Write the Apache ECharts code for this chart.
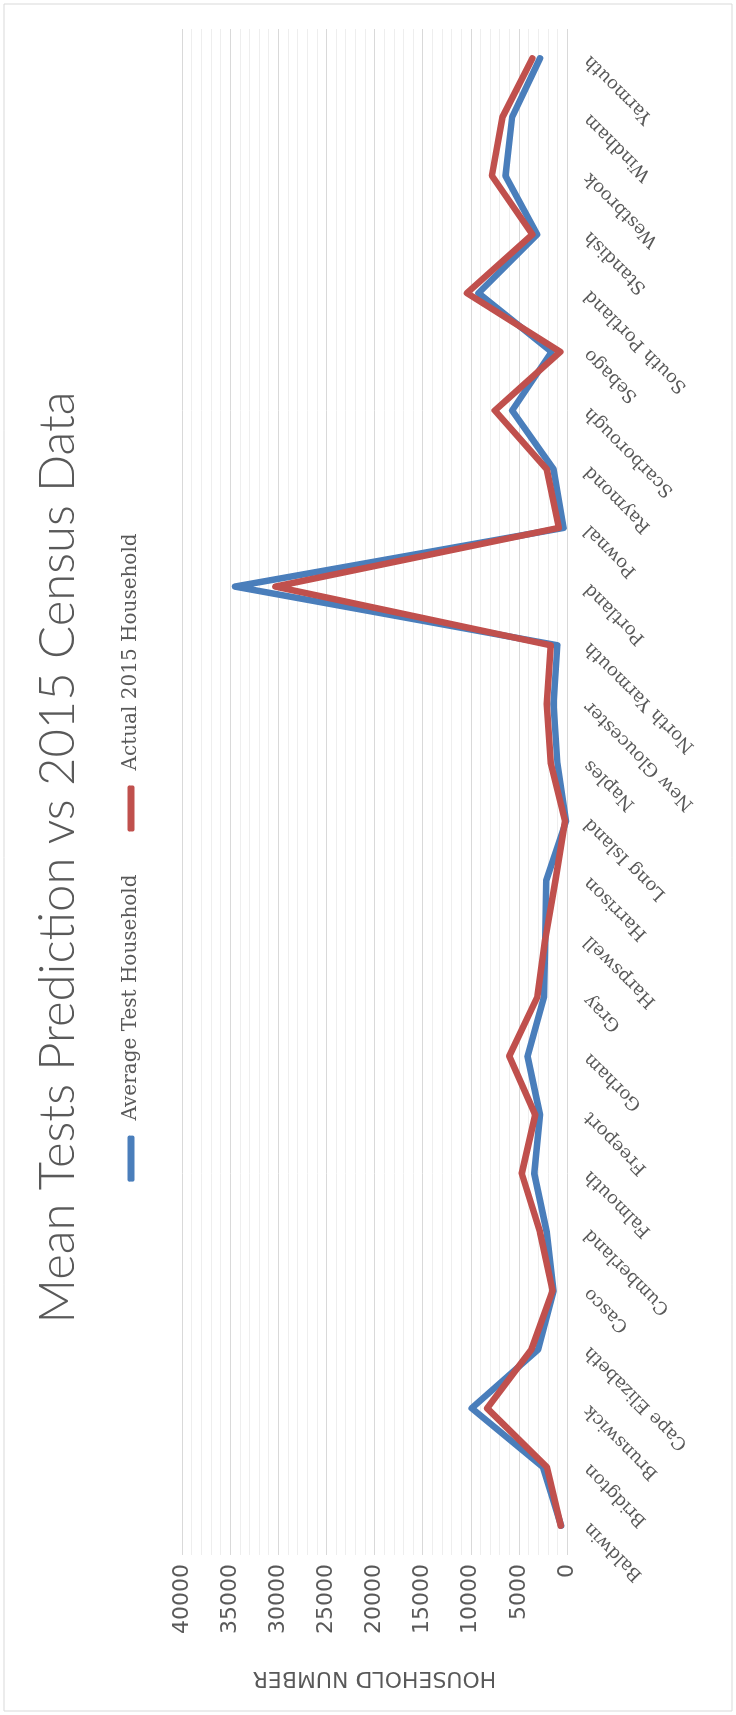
<!DOCTYPE html>
<html>
<head>
<meta charset="utf-8">
<script src="https://cdn.jsdelivr.net/npm/echarts@6/dist/echarts.min.js"></script>
<style>
html, body { margin: 0; padding: 0; background: #fff; overflow: hidden; }
#wrap { position: absolute; left: 0; top: 0; width: 736px; height: 1715px; overflow: hidden; }
#chart { position: absolute; left: 0; top: 0; width: 1715px; height: 736px;
  transform-origin: 0 0; transform: translate(0px, 1715px) rotate(-90deg); }
</style>
</head>
<body>
<div id="wrap"><div id="chart"></div></div>
<script>
const titleText = 'Mean Tests Prediction vs 2015 Census Data';
const axisTitle = 'HOUSEHOLD NUMBER';
const seriesNames = ['Average Test Household', 'Actual 2015 Household'];
const categories = ['Baldwin', 'Bridgton', 'Brunswick', 'Cape Elizabeth', 'Casco', 'Cumberland',
  'Falmouth', 'Freeport', 'Gorham', 'Gray', 'Harpswell', 'Harrison', 'Long Island', 'Naples',
  'New Gloucester', 'North Yarmouth', 'Portland', 'Pownal', 'Raymond', 'Scarborough', 'Sebago',
  'South Portland', 'Standish', 'Westbrook', 'Windham', 'Yarmouth'];
const averageTest = [600, 2500, 9900, 3000, 1400, 2100, 3400, 2800, 4100, 2400, 2250, 2150, 100,
  1000, 1400, 1000, 34500, 350, 1400, 5700, 1600, 9200, 3100, 6400, 5700, 2800];
const actual2015 = [650, 2100, 8300, 3700, 1500, 2800, 4700, 3300, 6000, 3100, 2250, 1200, 200,
  1700, 2100, 1700, 30300, 850, 2100, 7500, 700, 10400, 3600, 7800, 6700, 3600];
const valueMin = 0, valueMax = 40000, valueStep = 5000;

const chart = echarts.init(document.getElementById('chart'), null, { renderer: 'canvas', width: 1715, height: 736 });
const gray = '#595959';
chart.setOption({
  backgroundColor: '#ffffff',
  animation: false,
  title: {
    text: titleText, left: 'center', top: 29,
    textStyle: { fontFamily: 'Lato', fontWeight: 300, fontSize: 49, color: gray }
  },
  legend: {
    data: seriesNames, left: 'center', top: 116, icon: 'roundRect',
    itemWidth: 46, itemHeight: 7, itemGap: 43,
    textStyle: { fontFamily: 'DejaVu Serif', fontSize: 20, color: gray, padding: [0, 0, 0, 10] }
  },
  graphic: [{
    type: 'rect', shape: { x: 4, y: 4, width: 1707, height: 728 },
    style: { fill: 'none', stroke: '#d9d9d9', lineWidth: 1 }, silent: true
  }],
  grid: { left: 160, right: 29, top: 182, bottom: 169 },
  xAxis: {
    type: 'category', data: categories, boundaryGap: true,
    axisLine: { show: false }, axisTick: { show: false },
    axisLabel: { rotate: 45, margin: 20, interval: 0, fontFamily: 'DejaVu Serif', fontSize: 18, color: gray }
  },
  yAxis: {
    type: 'value', min: valueMin, max: valueMax, interval: valueStep,
    name: axisTitle, nameLocation: 'middle', nameRotate: 90, nameGap: 112, nameMoveOverlap: false,
    nameTextStyle: { fontFamily: 'DejaVu Sans', fontSize: 22, color: gray },
    axisLine: { show: false }, axisTick: { show: false },
    axisLabel: { margin: 9, fontFamily: 'DejaVu Sans', fontSize: 22, color: gray, formatter: v => String(v) },
    splitLine: { lineStyle: { color: '#d9d9d9', width: 1 } },
    minorTick: { show: false, splitNumber: 5 },
    minorSplitLine: { show: true, lineStyle: { color: '#eeeeee', width: 1 } }
  },
  series: [
    { name: seriesNames[0], type: 'line', data: averageTest, symbol: 'none',
      color: '#4A7EBB', lineStyle: { width: 6.5, color: '#4A7EBB', cap: 'round', join: 'round' } },
    { name: seriesNames[1], type: 'line', data: actual2015, symbol: 'none',
      color: '#C0504D', lineStyle: { width: 6.5, color: '#C0504D', cap: 'round', join: 'round' } }
  ]
});
</script>
</body>
</html>
